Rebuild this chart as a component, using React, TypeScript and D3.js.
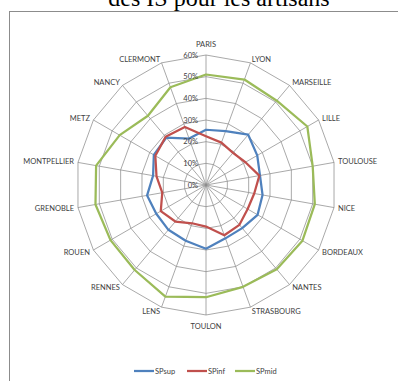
import { useEffect, useRef } from 'react';
import * as d3 from 'd3';

const cities = [
  'PARIS', 'LYON', 'MARSEILLE', 'LILLE', 'TOULOUSE', 'NICE', 'BORDEAUX', 'NANTES', 'STRASBOURG',
  'TOULON', 'LENS', 'RENNES', 'ROUEN', 'GRENOBLE', 'MONTPELLIER', 'METZ', 'NANCY', 'CLERMONT',
];

const spSup = [0.255, 0.265, 0.303, 0.273, 0.253, 0.265, 0.275, 0.26, 0.262, 0.294, 0.274, 0.27, 0.265, 0.276, 0.248, 0.278, 0.285, 0.228];
const spInf = [0.225, 0.208, 0.194, 0.21, 0.25, 0.226, 0.222, 0.24, 0.247, 0.192, 0.188, 0.22, 0.241, 0.205, 0.232, 0.27, 0.29, 0.285];
const spMid = [0.51, 0.518, 0.508, 0.54, 0.5, 0.51, 0.514, 0.508, 0.5, 0.518, 0.548, 0.512, 0.509, 0.518, 0.515, 0.46, 0.417, 0.48];

const ticks = [0, 0.1, 0.2, 0.3, 0.4, 0.5, 0.6];

const series = [
  { name: 'SPsup', values: spSup, color: '#4F81BD' },
  { name: 'SPinf', values: spInf, color: '#C0504D' },
  { name: 'SPmid', values: spMid, color: '#9BBB59' },
];

const W = 398;
const H = 381;
const cx = 206;
const cy = 185;
const font = 'Lato, "Open Sans", sans-serif';

export default function App() {
  const svgRef = useRef<SVGSVGElement>(null);

  useEffect(() => {
    if (!svgRef.current) return;
    const svg = d3.select(svgRef.current);
    svg.selectAll('*').remove();

    const n = cities.length;
    const r = d3.scaleLinear().domain([0, 0.6]).range([0, 130]);
    const angle = (i: number) => (i * 2 * Math.PI) / n;

    // chart frame (extends past the window on right/bottom)
    svg.append('rect')
      .attr('x', 9.5).attr('y', 11.5)
      .attr('width', 420).attr('height', 400)
      .attr('fill', '#fff').attr('stroke', '#8c8c8c').attr('stroke-width', 1);

    // title, clipped at the top
    svg.append('text')
      .attr('x', 219).attr('y', 6)
      .attr('text-anchor', 'middle')
      .attr('font-family', '"Liberation Serif", "Times New Roman", serif')
      .attr('font-size', 24)
      .attr('fill', '#000')
      .text('des IS pour les artisans');

    const g = svg.append('g').attr('transform', `translate(${cx},${cy})`);

    const ring = d3.lineRadial<number>()
      .angle((_, i) => angle(i))
      .radius(d => r(d))
      .curve(d3.curveLinearClosed);

    // rings
    ticks.slice(1).forEach(t => {
      g.append('path')
        .attr('d', ring(cities.map(() => t)))
        .attr('fill', 'none')
        .attr('stroke', '#8c8c8c')
        .attr('stroke-width', 0.75);
    });

    // spokes
    cities.forEach((_, i) => {
      const a = angle(i);
      g.append('line')
        .attr('x1', 0).attr('y1', 0)
        .attr('x2', r(0.6) * Math.sin(a)).attr('y2', -r(0.6) * Math.cos(a))
        .attr('stroke', '#8c8c8c')
        .attr('stroke-width', 0.75);
    });

    // series
    series.forEach(s => {
      g.append('path')
        .attr('d', ring(s.values))
        .attr('fill', 'none')
        .attr('stroke', s.color)
        .attr('stroke-width', 2.25)
        .attr('stroke-linejoin', 'round');
    });

    // tick labels
    g.selectAll('text.tick')
      .data(ticks)
      .join('text')
      .attr('class', 'tick')
      .attr('x', -8)
      .attr('y', d => -r(d))
      .attr('dy', '0.35em')
      .attr('text-anchor', 'end')
      .attr('font-family', font)
      .attr('font-size', 7.5)
      .attr('fill', '#404040')
      .text(d => d3.format('.0%')(d));

    // category labels
    const lr = 134;
    g.selectAll('text.cat')
      .data(cities)
      .join('text')
      .attr('class', 'cat')
      .each(function (d, i) {
        const a = angle(i);
        const s = Math.sin(a);
        const c = Math.cos(a);
        let x = lr * s;
        let y = -lr * c;
        let anchor = 'middle';
        if (s > 0.1) anchor = 'start';
        else if (s < -0.1) anchor = 'end';
        else y += c > 0 ? -7 : 7;
        d3.select(this)
          .attr('x', x)
          .attr('y', y)
          .attr('dy', '0.35em')
          .attr('text-anchor', anchor);
      })
      .attr('font-family', font)
      .attr('font-size', 7.5)
      .attr('fill', '#404040')
      .text(d => d);

    // legend
    const legendX = [134, 187, 235];
    const legend = svg.append('g').attr('transform', 'translate(0,371)');
    series.forEach((s, i) => {
      legend.append('line')
        .attr('x1', legendX[i]).attr('x2', legendX[i] + 20)
        .attr('y1', 0).attr('y2', 0)
        .attr('stroke', s.color)
        .attr('stroke-width', 2.25);
      legend.append('text')
        .attr('x', legendX[i] + 21)
        .attr('y', 0)
        .attr('dy', '0.35em')
        .attr('font-family', font)
        .attr('font-size', 7.5)
        .attr('fill', '#404040')
        .text(s.name);
    });
  }, []);

  return (
    <div style={{ position: 'absolute', left: 0, top: 0, width: W, height: H, overflow: 'hidden', background: '#fff' }}>
      <svg ref={svgRef} width={W} height={H} />
    </div>
  );
}
